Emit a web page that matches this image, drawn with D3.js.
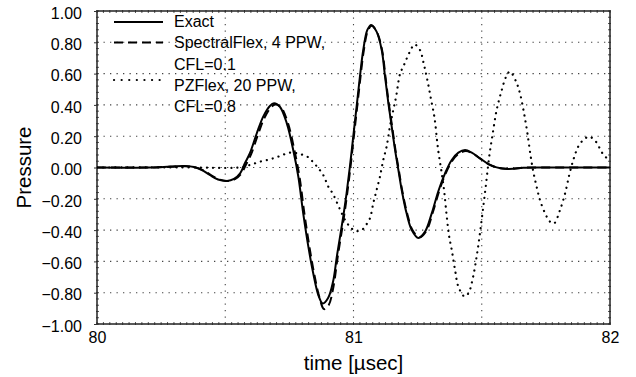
<!DOCTYPE html>
<html>
<head>
<meta charset="utf-8">
<script src="https://cdn.jsdelivr.net/npm/d3@7"></script>
<style>
  html, body { margin: 0; padding: 0; background: #fff; }
  svg { display: block; font-family: "Liberation Sans", Arial, sans-serif; }
</style>
</head>
<body>
<svg id="chart" width="636" height="377"></svg>
<script>
// Time axis (µs) and pressure axis ticks
const xTicks = [80, 81, 82];
const xGrid = [80.5, 81, 81.5];
const yTicks = [1.0, 0.8, 0.6, 0.4, 0.2, 0.0, -0.2, -0.4, -0.6, -0.8, -1.0];

// Series: [time µs, pressure]
const exact = [
  [80.000, 0.000], [80.207, 0.000], [80.285, 0.006], [80.343, 0.010], [80.378, 0.003],
  [80.409, -0.016], [80.440, -0.048], [80.472, -0.077], [80.507, -0.086], [80.534, -0.073],
  [80.558, -0.037], [80.577, 0.029], [80.596, 0.091], [80.623, 0.219], [80.648, 0.325],
  [80.674, 0.393], [80.690, 0.410], [80.713, 0.388], [80.740, 0.282], [80.765, 0.112],
  [80.785, -0.059], [80.804, -0.293], [80.824, -0.506], [80.843, -0.676], [80.863, -0.815],
  [80.880, -0.869], [80.901, -0.834], [80.920, -0.732], [80.936, -0.559], [80.960, -0.314],
  [80.973, -0.165], [80.986, 0.005], [80.999, 0.197], [81.012, 0.388], [81.025, 0.580],
  [81.038, 0.751], [81.054, 0.879], [81.069, 0.911], [81.090, 0.868], [81.110, 0.751],
  [81.123, 0.580], [81.136, 0.410], [81.149, 0.261], [81.162, 0.112], [81.175, -0.016],
  [81.188, -0.144], [81.207, -0.293], [81.227, -0.399], [81.253, -0.450], [81.279, -0.410],
  [81.305, -0.293], [81.331, -0.150], [81.357, -0.037], [81.383, 0.048], [81.409, 0.095],
  [81.435, 0.112], [81.461, 0.095], [81.493, 0.059], [81.526, 0.022], [81.558, 0.001],
  [81.591, -0.008], [81.623, -0.008], [81.662, -0.001], [81.800, 0.000], [82.000, 0.000]
];

const spectralFlex = [
  [80.000, 0.000], [80.207, 0.000], [80.290, 0.005], [80.345, 0.008], [80.382, 0.002],
  [80.413, -0.017], [80.444, -0.048], [80.476, -0.076], [80.511, -0.086], [80.538, -0.074],
  [80.562, -0.040], [80.582, 0.022], [80.601, 0.085], [80.628, 0.212], [80.653, 0.318],
  [80.679, 0.386], [80.695, 0.402], [80.718, 0.384], [80.745, 0.280], [80.770, 0.108],
  [80.790, -0.065], [80.809, -0.300], [80.829, -0.515], [80.848, -0.690], [80.868, -0.835],
  [80.885, -0.905], [80.903, -0.880], [80.922, -0.760], [80.938, -0.575], [80.962, -0.325],
  [80.975, -0.172], [80.988, 0.000], [81.001, 0.192], [81.014, 0.383], [81.027, 0.575],
  [81.040, 0.746], [81.056, 0.874], [81.071, 0.905], [81.092, 0.862], [81.112, 0.745],
  [81.125, 0.574], [81.138, 0.405], [81.151, 0.256], [81.164, 0.108], [81.177, -0.020],
  [81.190, -0.148], [81.210, -0.298], [81.231, -0.403], [81.258, -0.445], [81.284, -0.405],
  [81.309, -0.288], [81.335, -0.146], [81.360, -0.035], [81.386, 0.046], [81.412, 0.090],
  [81.438, 0.105], [81.464, 0.090], [81.495, 0.055], [81.528, 0.020], [81.560, 0.000],
  [81.593, -0.008], [81.625, -0.008], [81.664, -0.001], [81.800, 0.000], [82.000, 0.000]
];

const pzFlex = [
  [80.000, 0.000], [80.378, 0.000], [80.507, -0.003], [80.558, 0.001], [80.596, 0.016],
  [80.635, 0.037], [80.674, 0.052], [80.713, 0.073], [80.752, 0.095], [80.791, 0.086],
  [80.824, 0.065], [80.842, 0.035], [80.863, -0.005], [80.882, -0.048], [80.902, -0.123],
  [80.920, -0.169], [80.943, -0.252], [80.967, -0.335], [80.986, -0.378], [81.008, -0.406],
  [81.032, -0.399], [81.049, -0.367], [81.064, -0.325], [81.077, -0.229], [81.090, -0.144],
  [81.103, -0.059], [81.116, 0.048], [81.129, 0.133], [81.142, 0.261], [81.155, 0.367],
  [81.166, 0.452], [81.182, 0.602], [81.194, 0.644], [81.205, 0.687], [81.220, 0.740],
  [81.238, 0.786], [81.259, 0.751], [81.275, 0.655], [81.288, 0.559], [81.302, 0.438],
  [81.316, 0.316], [81.329, 0.125], [81.344, -0.037], [81.353, -0.144], [81.363, -0.304],
  [81.372, -0.431], [81.383, -0.527], [81.396, -0.655], [81.409, -0.762], [81.433, -0.824],
  [81.448, -0.804], [81.465, -0.708], [81.480, -0.570], [81.493, -0.420], [81.506, -0.250],
  [81.517, -0.101], [81.529, 0.069], [81.543, 0.219], [81.558, 0.367], [81.578, 0.495],
  [81.595, 0.580], [81.610, 0.613], [81.634, 0.548], [81.649, 0.474], [81.665, 0.346],
  [81.678, 0.219], [81.691, 0.069], [81.701, -0.027], [81.714, -0.123], [81.727, -0.208],
  [81.747, -0.293], [81.766, -0.346], [81.782, -0.357], [81.805, -0.272], [81.825, -0.165],
  [81.841, -0.048], [81.857, 0.048], [81.876, 0.133], [81.896, 0.176], [81.919, 0.197],
  [81.945, 0.165], [81.971, 0.090], [82.000, 0.040]
];

const legendLabels = [
  ["Exact"],
  ["SpectralFlex, 4 PPW,", "CFL=0.1"],
  ["PZFlex, 20 PPW,", "CFL=0.8"]
];

const svg = d3.select("#chart");
const margin = { left: 97, top: 11, right: 26, bottom: 53 };
const W = 636 - margin.left - margin.right;
const H = 377 - margin.top - margin.bottom;

const x = d3.scaleLinear().domain([80, 82]).range([0, W]);
const y = d3.scaleLinear().domain([-1, 1]).range([H, 0]);

const g = svg.append("g").attr("transform", `translate(${margin.left},${margin.top})`);

// Dotted grid
const grid = g.append("g").attr("stroke", "#444").attr("stroke-width", 1.1)
  .attr("stroke-dasharray", "1.3 5.2");
grid.selectAll("line.h").data(yTicks.filter(v => Math.abs(v) < 1)).join("line")
  .attr("x1", 0).attr("x2", W).attr("y1", d => y(d)).attr("y2", d => y(d));
grid.selectAll("line.v").data(xGrid).join("line")
  .attr("y1", 0).attr("y2", H).attr("x1", d => x(d)).attr("x2", d => x(d));

// Minor ticks on the frame
const minorX = d3.range(0, 81).map(i => 80 + i * 0.025);
const minorY = d3.range(0, 51).map(i => -1 + i * 0.04);
const ticks = g.append("g").attr("stroke", "#555").attr("stroke-width", 1);
ticks.selectAll("line.bx").data(minorX).join("line")
  .attr("x1", d => x(d)).attr("x2", d => x(d)).attr("y1", H - 2).attr("y2", H + 1);
ticks.selectAll("line.tx").data(minorX).join("line")
  .attr("x1", d => x(d)).attr("x2", d => x(d)).attr("y1", -1).attr("y2", 2);
ticks.selectAll("line.ly").data(minorY).join("line")
  .attr("y1", d => y(d)).attr("y2", d => y(d)).attr("x1", -1).attr("x2", 2);
ticks.selectAll("line.ry").data(minorY).join("line")
  .attr("y1", d => y(d)).attr("y2", d => y(d)).attr("x1", W - 2).attr("x2", W + 1);

// Frame
g.append("rect").attr("x", 0).attr("y", 0).attr("width", W).attr("height", H)
  .attr("fill", "none").attr("stroke", "#222").attr("stroke-width", 1.5);

// Axis labels via d3 axes (lines hidden, labels only)
const yAxis = g.append("g")
  .call(d3.axisLeft(y).tickValues(yTicks).tickFormat(d3.format(".2f")).tickSize(3).tickPadding(12));
yAxis.select(".domain").remove();
yAxis.selectAll(".tick line").attr("stroke", "#333");
yAxis.selectAll("text").attr("font-size", 16).attr("fill", "#000")
  .attr("font-family", "Liberation Sans, Arial, sans-serif").attr("dy", "0.45em");

const xAxis = g.append("g").attr("transform", `translate(0,${H})`)
  .call(d3.axisBottom(x).tickValues(xTicks).tickFormat(d3.format("d")).tickSize(0).tickPadding(8));
xAxis.select(".domain").remove();
xAxis.selectAll("text").attr("font-size", 16).attr("fill", "#000")
  .attr("font-family", "Liberation Sans, Arial, sans-serif").attr("dy", "0.71em");

// Curves
const line = d3.line().x(d => x(d[0])).y(d => y(d[1])).curve(d3.curveCatmullRom.alpha(0.5));
g.append("clipPath").attr("id", "plotclip").append("rect")
  .attr("width", W).attr("height", H);
const curves = g.append("g").attr("clip-path", "url(#plotclip)");

curves.append("path").datum(pzFlex).attr("d", line)
  .attr("fill", "none").attr("stroke", "#000").attr("stroke-width", 2.2)
  .attr("stroke-linecap", "round").attr("stroke-dasharray", "0.1 6");
curves.append("path").datum(spectralFlex).attr("d", line)
  .attr("fill", "none").attr("stroke", "#000").attr("stroke-width", 2)
  .attr("stroke-dasharray", "9 5");
curves.append("path").datum(exact).attr("d", line)
  .attr("fill", "none").attr("stroke", "#000").attr("stroke-width", 2);

// Legend
const leg = svg.append("g");
const styles = [
  { dash: null, w: 2, cap: "butt" },
  { dash: "9 5", w: 2, cap: "butt" },
  { dash: "0.1 7.5", w: 2.2, cap: "round" }
];
const lineY = [22, 42.5, 80];
const textBase = [[27.3], [48.4, 69.5], [90.6, 111.7]];
legendLabels.forEach((lines, i) => {
  leg.append("line").attr("x1", 114).attr("x2", 163).attr("y1", lineY[i]).attr("y2", lineY[i])
    .attr("stroke", "#000").attr("stroke-width", styles[i].w)
    .attr("stroke-linecap", styles[i].cap)
    .attr("stroke-dasharray", styles[i].dash);
  lines.forEach((t, j) => {
    leg.append("text").attr("x", 174).attr("y", textBase[i][j])
      .attr("font-size", 16).attr("fill", "#000").text(t);
  });
});

// Axis titles
svg.append("text").attr("x", margin.left + x(81)).attr("y", 370)
  .attr("text-anchor", "middle").attr("font-size", 20.5).attr("fill", "#000")
  .text("time [µsec]");
svg.append("text").attr("transform", `translate(31,${margin.top + y(0)}) rotate(-90)`)
  .attr("text-anchor", "middle").attr("font-size", 20.5).attr("fill", "#000")
  .text("Pressure");
</script>
</body>
</html>
